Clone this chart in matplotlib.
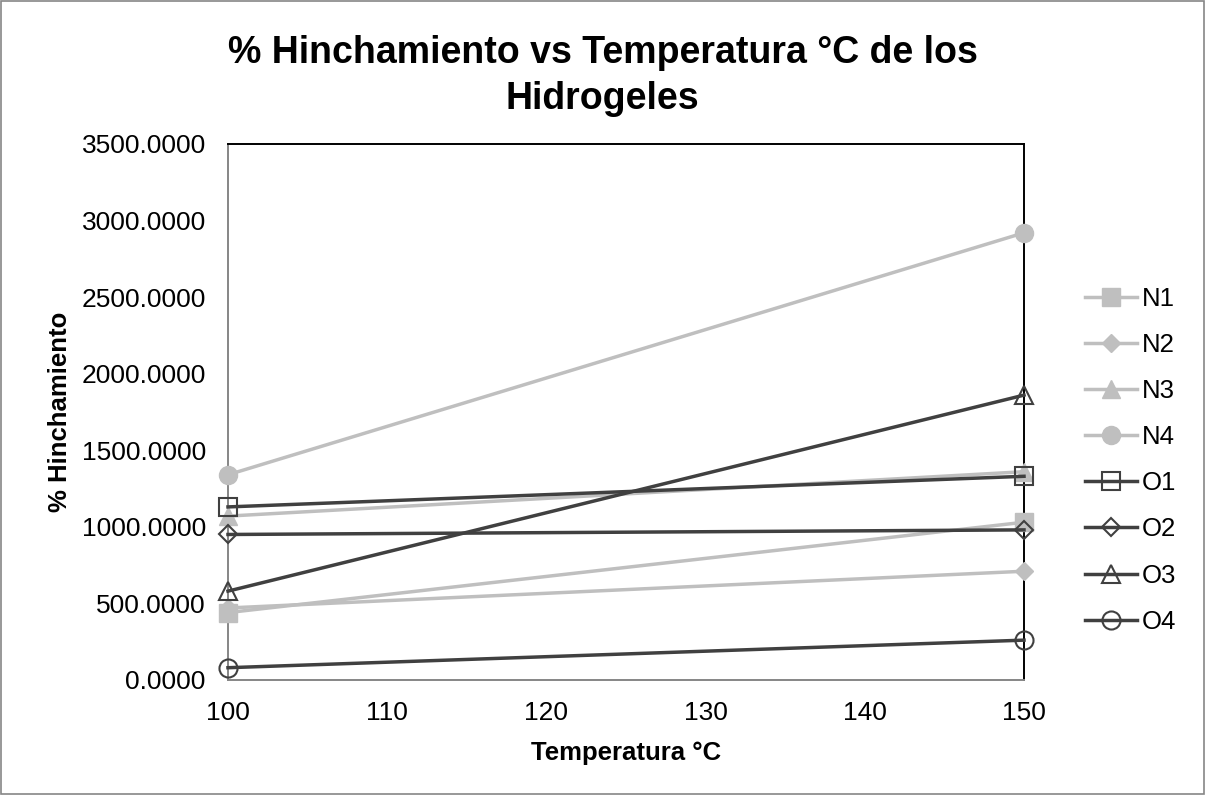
import matplotlib.pyplot as plt
from matplotlib.ticker import MultipleLocator, FormatStrFormatter

plt.rcParams['font.family'] = ['Liberation Sans', 'DejaVu Sans']

temperatura = [100, 150]
n1 = [440, 1030]
n2 = [470, 710]
n3 = [1070, 1360]
n4 = [1340, 2920]
o1 = [1130, 1330]
o2 = [950, 980]
o3 = [580, 1860]
o4 = [80, 260]

light = '#BFBFBF'
dark = '#404040'

fig = plt.figure(figsize=(12.05, 7.95), dpi=100)
ax = fig.add_axes([0.1892, 0.1447, 0.6606, 0.6742])

series = [
    ('N1', n1, light, 's', True),
    ('N2', n2, light, 'D', True),
    ('N3', n3, light, '^', True),
    ('N4', n4, light, 'o', True),
    ('O1', o1, dark, 's', False),
    ('O2', o2, dark, 'D', False),
    ('O3', o3, dark, '^', False),
    ('O4', o4, dark, 'o', False),
]
sizes = {'s': 13, 'D': 9.5, '^': 13, 'o': 13}
for name, vals, col, mk, filled in series:
    ms = sizes[mk]
    if filled:
        ax.plot(temperatura, vals, color=col, lw=2.5, marker=mk, ms=ms,
                mfc=col, mec=col, label=name, clip_on=False, zorder=3)
    else:
        ax.plot(temperatura, vals, color=col, lw=2.5, marker=mk, ms=ms,
                mfc='none', mec=col, mew=1.5, label=name, clip_on=False, zorder=4)

ax.set_xlim(100, 150)
ax.set_ylim(0, 3500)
ax.xaxis.set_major_locator(MultipleLocator(10))
ax.yaxis.set_major_locator(MultipleLocator(500))
ax.yaxis.set_major_formatter(FormatStrFormatter('%.4f'))
ax.tick_params(labelsize=19, length=0)
ax.tick_params(axis='y', pad=16)
ax.tick_params(axis='x', pad=15)

ax.spines['left'].set_color('#868686')
ax.spines['bottom'].set_color('#868686')
ax.spines['top'].set_color('black')
ax.spines['right'].set_color('black')
for s in ax.spines.values():
    s.set_linewidth(1.4)

ax.set_xlabel('Temperatura °C', fontsize=18.5, fontweight='bold', labelpad=12)
ax.set_ylabel('% Hinchamiento', fontsize=18.5, fontweight='bold', labelpad=7)
fig.text(0.5, 0.904, '% Hinchamiento vs Temperatura °C de los\nHidrogeles', ha='center',
         va='center', fontsize=27, fontweight='bold', linespacing=1.35)

fig.legend(loc='upper left', bbox_to_anchor=(0.892, 0.652), frameon=False, fontsize=18.5,
           handlelength=2.0, labelspacing=0.86, handletextpad=0.2, borderaxespad=0)

fig.patches.append(plt.Rectangle((0.001, 0.001), 0.998, 0.998, transform=fig.transFigure,
                                 fill=False, edgecolor='#868686', lw=1.2))

fig.savefig('out.png', dpi=100)
